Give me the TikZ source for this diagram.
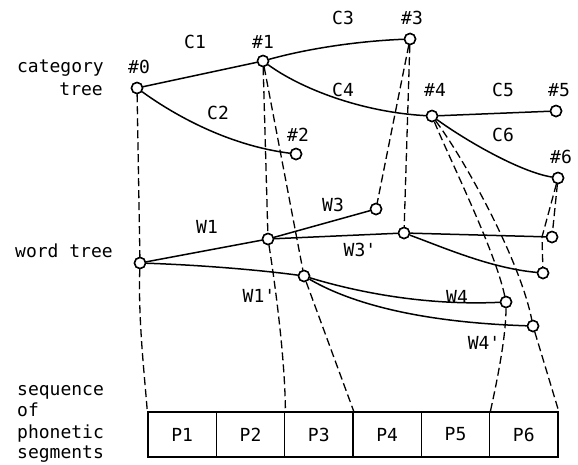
\documentclass[tikz,border=0pt]{standalone}
\usepackage{fontspec}
\setmonofont{DejaVu Sans Mono}
\begin{document}
\begin{tikzpicture}[x=1pt,y=-1pt,
  vtx/.style={circle,draw,fill=white,line width=1.5pt,minimum size=11pt,inner sep=0pt},
  tedge/.style={line width=1.5pt},
  corr/.style={line width=1.3pt,dash pattern=on 8pt off 4pt},
  lbl/.style={font=\ttfamily\fontsize{18}{22}\selectfont,inner sep=0pt,anchor=base},
  side/.style={font=\ttfamily\fontsize{18}{22}\selectfont,inner sep=0pt},
  cell/.style={draw,line width=1.5pt,minimum width=68.33pt,minimum height=45pt,inner sep=0pt,font=\ttfamily\fontsize{18}{22}\selectfont},
  ]
\useasboundingbox (0,0) rectangle (578,464);

% side texts
\node[side,anchor=base east] (tcat) at (104,72) {category};
\node[side,anchor=base east] (ttree) at (103,95) {tree};
\node[side,anchor=base west] (tword) at (15,257) {word tree};
\node[side,anchor=base west] (ts1) at (17,395) {sequence};
\node[side,anchor=base west] (ts2) at (17,416.5) {of};
\node[side,anchor=base west] (ts3) at (17,438) {phonetic};
\node[side,anchor=base west] (ts4) at (17,458) {segments};

% phonetic segments
\node[cell] (p1) at (182.2,434.5) {P1};
\node[cell] (p2) at (250.5,434.5) {P2};
\node[cell] (p3) at (318.8,434.5) {P3};
\node[cell] (p4) at (387.2,434.5) {P4};
\node[cell] (p5) at (455.5,434.5) {P5};
\node[cell] (p6) at (523.8,434.5) {P6};

% category tree nodes
\node[vtx] (n0) at (137,88) {};
\node[vtx] (n1) at (263,61) {};
\node[vtx] (n2) at (296,154) {};
\node[vtx] (n3) at (410,39) {};
\node[vtx] (n4) at (432,116) {};
\node[vtx] (n5) at (556,111) {};
\node[vtx] (n6) at (558,178) {};

% word tree nodes
\node[vtx] (w0) at (140,263) {};
\node[vtx] (w1) at (268,239) {};
\node[vtx] (w1p) at (304,276) {};
\node[vtx] (w3) at (376,209) {};
\node[vtx] (w3p) at (404,233) {};
\node[vtx] (wr1) at (552,237) {};
\node[vtx] (wr2) at (543,273) {};
\node[vtx] (w4) at (506,302) {};
\node[vtx] (w4p) at (533,326) {};
\coordinate (k6) at (542,237);

% category tree edges
\draw[tedge] (n0) -- (n1);
\draw[tedge] (n0) .. controls (170,112) and (225,145) .. (n2);
\draw[tedge] (n1) .. controls (310,48) and (360,41) .. (n3);
\draw[tedge] (n1) .. controls (300,88) and (360,112) .. (n4);
\draw[tedge] (n4) -- (n5);
\draw[tedge] (n4) .. controls (465,140) and (520,172) .. (n6);

% word tree edges
\draw[tedge] (w0) -- (w1);
\draw[tedge] (w0) .. controls (200,265) and (260,270) .. (w1p);
\draw[tedge] (w1) -- (w3);
\draw[tedge] (w1) -- (w3p);
\draw[tedge] (w3p) -- (wr1);
\draw[tedge] (w3p) .. controls (445,248) and (490,268) .. (wr2);
\draw[tedge] (w1p) .. controls (350,290) and (420,306) .. (w4);
\draw[tedge] (w1p) .. controls (345,300) and (410,322) .. (w4p);

% correspondences
\draw[corr] (n0) -- (w0);
\draw[corr] (w0) .. controls (138,320) and (145,380) .. (p1.north west);
\draw[corr] (n1) -- (w1);
\draw[corr] (w1) .. controls (276,290) and (285,360) .. (p2.north east);
\draw[corr] (n1) -- (w1p);
\draw[corr] (w1p) -- (p3.north east);
\draw[corr] (n3) -- (w3);
\draw[corr] (n3) -- (w3p);
\draw[corr] (n4) .. controls (450,160) and (495,250) .. (w4);
\draw[corr] (n4) .. controls (465,160) and (520,260) .. (w4p);
\draw[corr] (w4) .. controls (506,340) and (495,390) .. (p5.north east);
\draw[corr] (w4p) -- (p6.north east);
\draw[corr] (n6) -- (wr1);
\draw[corr] (n6) -- (k6) -- (wr2);

% redraw node circles on top
\foreach \v in {n0,n1,n2,n3,n4,n5,n6,w0,w1,w1p,w3,w3p,wr1,wr2,w4,w4p}
  \draw[line width=1.5pt,fill=white] (\v) circle (5.5pt);

% labels
\node[lbl] (l0) at (139,73.5) {\#0};
\node[lbl] (l1) at (263,48.5) {\#1};
\node[lbl] (l2) at (298,141.5) {\#2};
\node[lbl] (l3) at (412,24.5) {\#3};
\node[lbl] (l4) at (435,96.5) {\#4};
\node[lbl] (l5) at (559,96.5) {\#5};
\node[lbl] (l6) at (561,163.5) {\#6};
\node[lbl] (c1) at (195,48.5) {C1};
\node[lbl] (c2) at (218,119.5) {C2};
\node[lbl] (c3) at (343,24.5) {C3};
\node[lbl] (c4) at (343,96.5) {C4};
\node[lbl] (c5) at (503,96.5) {C5};
\node[lbl] (c6) at (503,141.5) {C6};
\node[lbl] (lw1) at (207,233.5) {W1};
\node[lbl] (lw3) at (333,211.5) {W3};
\node[lbl] (lw3p) at (360,256.5) {W3'};
\node[lbl] (lw1p) at (259,302.5) {W1'};
\node[lbl] (lw4) at (457,303.5) {W4};
\node[lbl] (lw4p) at (484,349.5) {W4'};
\end{tikzpicture}
\end{document}
